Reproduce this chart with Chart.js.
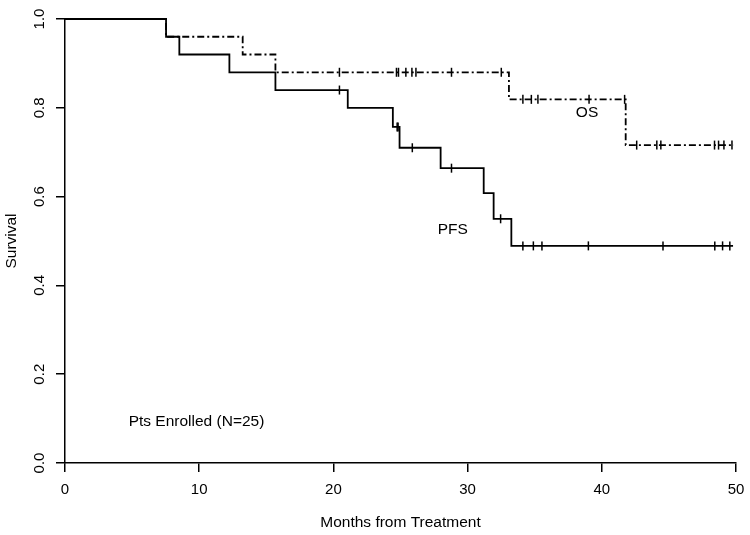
<!DOCTYPE html>
<html>
<head>
<meta charset="utf-8">
<script src="https://cdn.jsdelivr.net/npm/chart.js@4.4.1/dist/chart.umd.min.js"></script>
<style>
  html, body { margin: 0; padding: 0; background: #fff; }
  #wrap { width: 750px; height: 535px; }
</style>
</head>
<body>
<div id="wrap"><canvas id="kmChart" width="750" height="535"></canvas></div>
<script>
// Kaplan-Meier steps (months, survival after the step)
const pfsTimes = [0, 7.53, 8.52, 12.25, 15.68, 21.07, 24.43, 24.93, 27.99, 31.2, 31.94, 33.26, 49.78];
const pfsSurv  = [1, 0.96, 0.92, 0.88, 0.84, 0.80, 0.757, 0.71, 0.664, 0.608, 0.55, 0.489, 0.489];
const pfsCensor = [20.45, 24.75, 24.82, 25.88, 28.8, 32.46, 34.12, 34.9, 35.54, 39.0, 44.56, 48.42, 49.0, 49.54];

const osTimes = [0, 7.53, 13.24, 15.68, 33.08, 41.78, 49.85];
const osSurv  = [1, 0.96, 0.92, 0.88, 0.819, 0.716, 0.716];
const osCensor = [20.45, 24.7, 24.85, 25.4, 25.85, 26.15, 28.8, 32.51, 34.12, 34.75, 35.24, 39.05, 41.7,
                  42.6, 44.1, 44.4, 48.4, 48.7, 49.1, 49.7];

const xTicks = [0, 10, 20, 30, 40, 50];
const yTicks = [0, 0.2, 0.4, 0.6, 0.8, 1.0];

// text labels placed in data units
const notes = [
    { text: 'OS', x: 38.9, y: 0.79 },
    { text: 'PFS', x: 28.9, y: 0.525 },
    { text: 'Pts Enrolled (N=25)', x: 9.8, y: 0.092 }
];

const FONT = "'Liberation Sans', Arial, Helvetica, sans-serif";

function toPoints(times, surv) {
    return times.map((t, i) => ({ x: t, y: surv[i] }));
}

// survival level of a step curve at time t
function levelAt(times, surv, t) {
    let v = surv[0];
    for (let i = 0; i < times.length; i++) {
        if (times[i] <= t) v = surv[i];
    }
    return v;
}

function censorPoints(list, times, surv) {
    return list.map(t => ({ x: t, y: levelAt(times, surv, t) }));
}

const curveStyle = {
    borderColor: '#000',
    borderWidth: 1.8,
    pointRadius: 0,
    stepped: 'before',
    fill: false,
    clip: 6
};

const markStyle = {
    showLine: false,
    pointStyle: 'line',
    rotation: 90,
    pointRadius: 4.5,
    pointBorderWidth: 1.5,
    borderColor: '#000',
    backgroundColor: '#000',
    clip: 6
};

const notesPlugin = {
    id: 'notes',
    afterDatasetsDraw(chart) {
        const ctx = chart.ctx;
        const xs = chart.scales.x, ys = chart.scales.y;
        ctx.save();
        ctx.fillStyle = '#000';
        ctx.font = '15.5px ' + FONT;
        ctx.textAlign = 'center';
        ctx.textBaseline = 'middle';
        notes.forEach(n => {
            ctx.fillText(n.text, xs.getPixelForValue(n.x), ys.getPixelForValue(n.y));
        });
        ctx.restore();
    }
};

new Chart(document.getElementById('kmChart').getContext('2d'), {
    type: 'line',
    data: {
        datasets: [
            Object.assign({ label: 'PFS', data: toPoints(pfsTimes, pfsSurv) }, curveStyle),
            Object.assign({ label: 'OS', data: toPoints(osTimes, osSurv), borderDash: [7, 3, 2, 3] }, curveStyle),
            Object.assign({ label: 'PFS censored', data: censorPoints(pfsCensor, pfsTimes, pfsSurv) }, markStyle),
            Object.assign({ label: 'OS censored', data: censorPoints(osCensor, osTimes, osSurv) }, markStyle)
        ]
    },
    options: {
        responsive: false,
        animation: false,
        layout: { padding: { top: 19, right: 14, left: 0, bottom: 0 } },
        plugins: {
            legend: { display: false },
            tooltip: { enabled: false }
        },
        scales: {
            x: {
                type: 'linear',
                min: 0,
                max: 50,
                afterFit: (s) => { s.height = 72; s.paddingLeft = 0; s.paddingRight = 0; },
                afterBuildTicks: (s) => { s.ticks = xTicks.map(v => ({ value: v })); },
                border: { display: true, color: '#000', width: 1.5 },
                grid: { drawOnChartArea: false, drawTicks: true, tickLength: 9, color: '#000', lineWidth: 1.5 },
                ticks: { color: '#000', padding: 9, maxRotation: 0, font: { family: FONT, size: 15 } },
                title: { display: true, text: 'Months from Treatment', color: '#000',
                         padding: { bottom: 3 }, font: { family: FONT, size: 15.5 } }
            },
            y: {
                type: 'linear',
                min: 0,
                max: 1,
                afterFit: (s) => { s.width = 65; s.paddingTop = 0; s.paddingBottom = 0; },
                afterBuildTicks: (s) => { s.ticks = yTicks.map(v => ({ value: v })); },
                border: { display: true, color: '#000', width: 1.5 },
                grid: { drawOnChartArea: false, drawTicks: true, tickLength: 9, color: '#000', lineWidth: 1.5 },
                ticks: {
                    color: '#000', padding: 6, minRotation: 90, maxRotation: 90, crossAlign: 'center',
                    font: { family: FONT, size: 15 },
                    callback: (v) => Number(v).toFixed(1)
                },
                title: { display: true, text: 'Survival', color: '#000',
                         padding: { top: 2 }, font: { family: FONT, size: 15.5 } }
            }
        }
    },
    plugins: [notesPlugin]
});
</script>
</body>
</html>
